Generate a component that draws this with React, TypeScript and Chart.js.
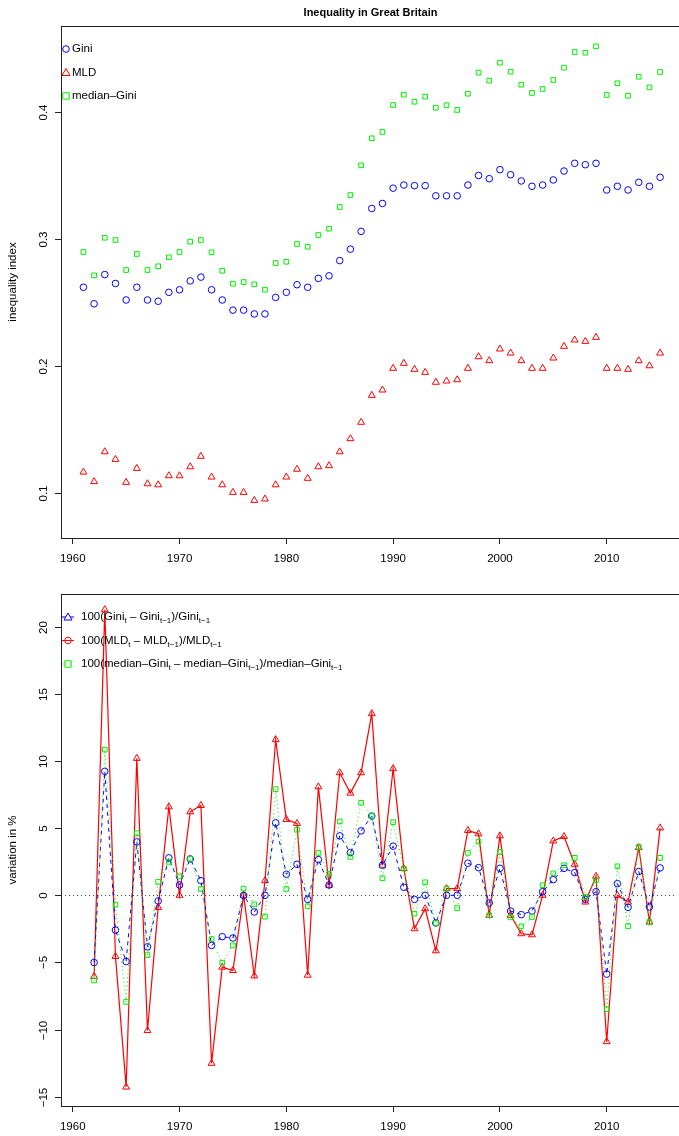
import { useEffect, useRef } from "react";
import { Chart, registerables } from "chart.js";

Chart.register(...registerables);

const FONT = "'Liberation Sans', Arial, sans-serif";

// years of the levels (top) and of the changes (bottom)
const years = [1961, 1962, 1963, 1964, 1965, 1966, 1967, 1968, 1969, 1970, 1971, 1972, 1973, 1974, 1975, 1976, 1977, 1978, 1979, 1980, 1981, 1982, 1983, 1984, 1985, 1986, 1987, 1988, 1989, 1990, 1991, 1992, 1993, 1994, 1995, 1996, 1997, 1998, 1999, 2000, 2001, 2002, 2003, 2004, 2005, 2006, 2007, 2008, 2009, 2010, 2011, 2012, 2013, 2014, 2015];
const changeYears = years.slice(1);

const gini = [0.262, 0.249, 0.272, 0.265, 0.252, 0.262, 0.252, 0.251, 0.258, 0.26, 0.267, 0.27, 0.26, 0.252, 0.244, 0.244, 0.241, 0.241, 0.254, 0.258, 0.264, 0.262, 0.269, 0.271, 0.283, 0.292, 0.306, 0.324, 0.328, 0.34, 0.3425, 0.342, 0.342, 0.334, 0.334, 0.334, 0.3425, 0.35, 0.3475, 0.3546, 0.3506, 0.3457, 0.3415, 0.3425, 0.3465, 0.3535, 0.3596, 0.3585, 0.3596, 0.3386, 0.3415, 0.3386, 0.3446, 0.3415, 0.3486];
const mld = [0.1165, 0.109, 0.1325, 0.1265, 0.1084, 0.1194, 0.1073, 0.1065, 0.1136, 0.1136, 0.1207, 0.1289, 0.1126, 0.1065, 0.1005, 0.1005, 0.0942, 0.0953, 0.1065, 0.1126, 0.1187, 0.1116, 0.1207, 0.1215, 0.1325, 0.1428, 0.1557, 0.1769, 0.1811, 0.1982, 0.2021, 0.1974, 0.195, 0.1872, 0.1882, 0.1892, 0.1982, 0.2073, 0.2042, 0.2134, 0.2102, 0.2042, 0.1982, 0.1982, 0.2063, 0.2155, 0.2205, 0.2194, 0.2226, 0.1982, 0.1982, 0.1974, 0.2042, 0.2002, 0.2102];
const medianGini = [0.2898, 0.2714, 0.301, 0.2992, 0.2756, 0.2882, 0.2756, 0.2785, 0.2856, 0.2898, 0.2979, 0.2992, 0.2895, 0.275, 0.2648, 0.2661, 0.2643, 0.2601, 0.2811, 0.2821, 0.2961, 0.2939, 0.3031, 0.3081, 0.3252, 0.3346, 0.358, 0.3793, 0.3843, 0.4055, 0.4136, 0.4081, 0.4121, 0.4034, 0.4053, 0.4016, 0.4144, 0.431, 0.4247, 0.4388, 0.4317, 0.4215, 0.415, 0.4181, 0.4252, 0.4349, 0.4472, 0.4467, 0.4517, 0.4134, 0.4226, 0.4128, 0.4278, 0.4194, 0.4315];

const giniChange = [-5.0, 9.23, -2.59, -4.93, 3.98, -3.83, -0.42, 2.79, 0.77, 2.71, 1.09, -3.73, -3.08, -3.18, 0, -1.24, 0, 5.4, 1.57, 2.31, -0.3, 2.66, 0.77, 4.43, 3.18, 4.8, 5.9, 2.24, 3.66, 0.6, -0.3, 0, -2.06, 0, 0, 2.39, 2.06, -0.57, 2.01, -1.17, -1.44, -1.17, 0.27, 1.17, 2.01, 1.69, -0.3, 0.27, -5.87, 0.87, -0.9, 1.77, -0.87, 2.04];
const mldChange = [-6.04, 21.27, -4.55, -14.28, 10.2, -10.07, -0.9, 6.59, 0, 6.22, 6.69, -12.51, -5.35, -5.6, 0, -6.0, 1.09, 11.59, 5.65, 5.35, -5.95, 8.08, 0.75, 9.13, 7.61, 9.13, 13.53, 2.24, 9.43, 1.99, -2.49, -1.0, -4.13, 0.5, 0.5, 4.83, 4.58, -1.49, 4.43, -1.49, -2.86, -2.94, 0, 4.05, 4.38, 2.31, -0.5, 1.42, -10.9, 0, -0.5, 3.56, -1.99, 5.02];
const medianGiniChange = [-6.34, 10.85, -0.7, -7.94, 4.63, -4.45, 1.0, 2.49, 1.42, 2.71, 0.47, -3.26, -5.02, -3.73, 0.5, -0.67, -1.59, 7.91, 0.47, 4.88, -0.82, 3.16, 1.59, 5.5, 2.86, 6.89, 5.9, 1.27, 5.45, 1.99, -1.37, 0.97, -2.06, 0.5, -0.95, 3.16, 4.0, -1.49, 3.23, -1.64, -2.31, -1.62, 0.75, 1.64, 2.24, 2.79, -0.12, 1.12, -8.48, 2.16, -2.29, 3.61, -1.99, 2.79];

const xTicks = [1960, 1970, 1980, 1990, 2000, 2010];
const topYTicks = [0.1, 0.2, 0.3, 0.4];
const bottomYTicks = [-15, -10, -5, 0, 5, 10, 15, 20];

const BLUE = "#0000ff";
const RED = "#ff0000";
const GREEN = "#00ee00";

type Seg = [string, boolean];
type LegendItem = { color: string; style: string; dash: number[] | null; parts: Seg[] };

const pts = (xs: number[], ys: number[]) => xs.map((x, i) => ({ x, y: ys[i] }));

function drawMarker(ctx: CanvasRenderingContext2D, style: string, x: number, y: number, color: string) {
  ctx.save();
  ctx.strokeStyle = color;
  ctx.lineWidth = 1;
  ctx.setLineDash([]);
  ctx.beginPath();
  if (style === "circle") ctx.arc(x, y, 3.3, 0, Math.PI * 2);
  else if (style === "rect") ctx.rect(x - 3.2, y - 3.2, 6.4, 6.4);
  else {
    ctx.moveTo(x, y - 4);
    ctx.lineTo(x + 4, y + 3);
    ctx.lineTo(x - 4, y + 3);
    ctx.closePath();
  }
  ctx.stroke();
  ctx.restore();
}

function makePanelPlugin(opts: {
  yTicks: number[];
  yTitle: string;
  title?: string;
  legend: LegendItem[];
  legendLines: boolean;
  zeroLine: boolean;
}) {
  return {
    id: "panel",
    afterDraw(chart: Chart) {
      const { ctx, chartArea: a } = chart;
      const y = chart.scales.y;
      ctx.save();
      ctx.strokeStyle = "#222";
      ctx.lineWidth = 1;
      ctx.strokeRect(a.left + 0.5, a.top + 0.5, a.right - a.left + 5, a.bottom - a.top);
      ctx.fillStyle = "#000";
      ctx.font = `11.5px ${FONT}`;
      ctx.textAlign = "center";
      ctx.textBaseline = "middle";
      opts.yTicks.forEach((t) => {
        const py = Math.round(y.getPixelForValue(t)) + 0.5;
        ctx.beginPath();
        ctx.moveTo(a.left - 6, py);
        ctx.lineTo(a.left, py);
        ctx.stroke();
        ctx.save();
        ctx.translate(a.left - 17, py);
        ctx.rotate(-Math.PI / 2);
        ctx.fillText(String(t).replace("-", "\u2212"), 0, 0);
        ctx.restore();
      });
      ctx.save();
      ctx.translate(13, (a.top + a.bottom) / 2);
      ctx.rotate(-Math.PI / 2);
      ctx.fillText(opts.yTitle, 0, 0);
      ctx.restore();
      if (opts.title) {
        ctx.font = `bold 11px ${FONT}`;
        ctx.fillText(opts.title, (a.left + a.right) / 2 + 3, 13);
      }
      // legend
      opts.legend.forEach((item, i) => {
        const ly = a.top + 23 + i * 23.5;
        let tx = a.left + 11;
        if (opts.legendLines) {
          ctx.save();
          ctx.strokeStyle = item.color;
          ctx.setLineDash(item.dash || []);
          ctx.beginPath();
          ctx.moveTo(a.left + 1, ly);
          ctx.lineTo(a.left + 13, ly);
          ctx.stroke();
          ctx.restore();
          drawMarker(ctx, item.style, a.left + 7, ly, item.color);
          tx = a.left + 20;
        } else {
          drawMarker(ctx, item.style, a.left + 5, ly, item.color);
        }
        ctx.textAlign = "left";
        ctx.fillStyle = "#000";
        item.parts.forEach(([s, sub]) => {
          ctx.font = sub ? `8px ${FONT}` : `11.5px ${FONT}`;
          ctx.fillText(s, tx, sub ? ly + 4 : ly);
          tx += ctx.measureText(s).width;
        });
      });
      ctx.restore();
    },
    beforeDatasetsDraw(chart: Chart) {
      if (!opts.zeroLine) return;
      const { ctx, chartArea: a } = chart;
      const py = Math.round(chart.scales.y.getPixelForValue(0)) + 0.5;
      ctx.save();
      ctx.strokeStyle = "#444";
      ctx.setLineDash([1, 3]);
      ctx.beginPath();
      ctx.moveTo(a.left, py);
      ctx.lineTo(a.right, py);
      ctx.stroke();
      ctx.restore();
    },
  };
}

function baseOptions(yMin: number, yMax: number): any {
  return {
    responsive: true,
    maintainAspectRatio: false,
    animation: false,
    layout: { padding: { left: 61, top: 26, right: 0, bottom: 0 } },
    plugins: { legend: { display: false }, tooltip: { enabled: false }, title: { display: false } },
    scales: {
      x: {
        type: "linear",
        min: 1958.9,
        max: 2016.3,
        afterBuildTicks: (s: any) => { s.ticks = xTicks.map((v) => ({ value: v })); },
        afterFit: (s: any) => { s.height = 30; },
        grid: { drawOnChartArea: false, drawTicks: true, tickLength: 6, color: "#222" },
        border: { display: false },
        ticks: { color: "#000", font: { family: FONT, size: 11.5 }, padding: 8, maxRotation: 0, callback: (v: any) => String(v) },
      },
      y: { type: "linear", display: false, min: yMin, max: yMax },
    },
  };
}

function Panel({ kind }: { kind: "top" | "bottom" }) {
  const ref = useRef<HTMLCanvasElement>(null);
  useEffect(() => {
    if (!ref.current) return;
    const marker = { pointRadius: 3.3, pointBorderWidth: 1, pointBackgroundColor: "rgba(0,0,0,0)", borderWidth: 1 };
    let chart: Chart;
    if (kind === "top") {
      chart = new Chart(ref.current, {
        type: "scatter",
        data: {
          datasets: [
            { data: pts(years, gini), pointStyle: "circle", borderColor: BLUE, pointBorderColor: BLUE, ...marker },
            { data: pts(years, mld), pointStyle: "triangle", pointRadius: 4, borderColor: RED, pointBorderColor: RED, pointBorderWidth: 1, pointBackgroundColor: "rgba(0,0,0,0)" },
            { data: pts(years, medianGini), pointStyle: "rect", borderColor: GREEN, pointBorderColor: GREEN, ...marker },
          ] as any,
        },
        options: baseOptions(0.0646, 0.4677),
        plugins: [
          makePanelPlugin({
            yTicks: topYTicks,
            yTitle: "inequality index",
            title: "Inequality in Great Britain",
            legendLines: false,
            zeroLine: false,
            legend: [
              { color: BLUE, style: "circle", dash: null, parts: [["Gini", false]] },
              { color: RED, style: "triangle", dash: null, parts: [["MLD", false]] },
              { color: GREEN, style: "rect", dash: null, parts: [["median\u2013Gini", false]] },
            ],
          }) as any,
        ],
      });
    } else {
      chart = new Chart(ref.current, {
        type: "line",
        data: {
          datasets: [
            { data: pts(changeYears, medianGiniChange), pointStyle: "rect", borderColor: GREEN, pointBorderColor: GREEN, borderDash: [1, 3], ...marker },
            { data: pts(changeYears, giniChange), pointStyle: "circle", borderColor: BLUE, pointBorderColor: BLUE, borderDash: [4, 4], ...marker },
            { data: pts(changeYears, mldChange), pointStyle: "triangle", pointRadius: 4, borderColor: RED, pointBorderColor: RED, pointBorderWidth: 1, pointBackgroundColor: "rgba(0,0,0,0)", borderWidth: 1.2 },
          ] as any,
        },
        options: baseOptions(-15.69, 22.44),
        plugins: [
          makePanelPlugin({
            yTicks: bottomYTicks,
            yTitle: "variation in %",
            legendLines: true,
            zeroLine: true,
            legend: [
              { color: BLUE, style: "triangle", dash: [4, 4], parts: [["100(Gini", false], ["t", true], [" \u2013 Gini", false], ["t\u22121", true], [")/Gini", false], ["t\u22121", true]] },
              { color: RED, style: "circle", dash: null, parts: [["100(MLD", false], ["t", true], [" \u2013 MLD", false], ["t\u22121", true], [")/MLD", false], ["t\u22121", true]] },
              { color: GREEN, style: "rect", dash: [1, 3], parts: [["100(median\u2013Gini", false], ["t", true], [" \u2013 median\u2013Gini", false], ["t\u22121", true], [")/median\u2013Gini", false], ["t\u22121", true]] },
            ],
          }) as any,
        ],
      });
    }
    return () => chart.destroy();
  }, [kind]);
  return (
    <div style={{ width: 679, height: 568, position: "relative" }}>
      <canvas ref={ref}></canvas>
    </div>
  );
}

export default function App() {
  useEffect(() => {
    document.body.style.margin = "0";
    document.body.style.overflow = "hidden";
  }, []);
  return (
    <div style={{ width: 679, height: 1136, background: "#fff" }}>
      <Panel kind="top" />
      <Panel kind="bottom" />
    </div>
  );
}
